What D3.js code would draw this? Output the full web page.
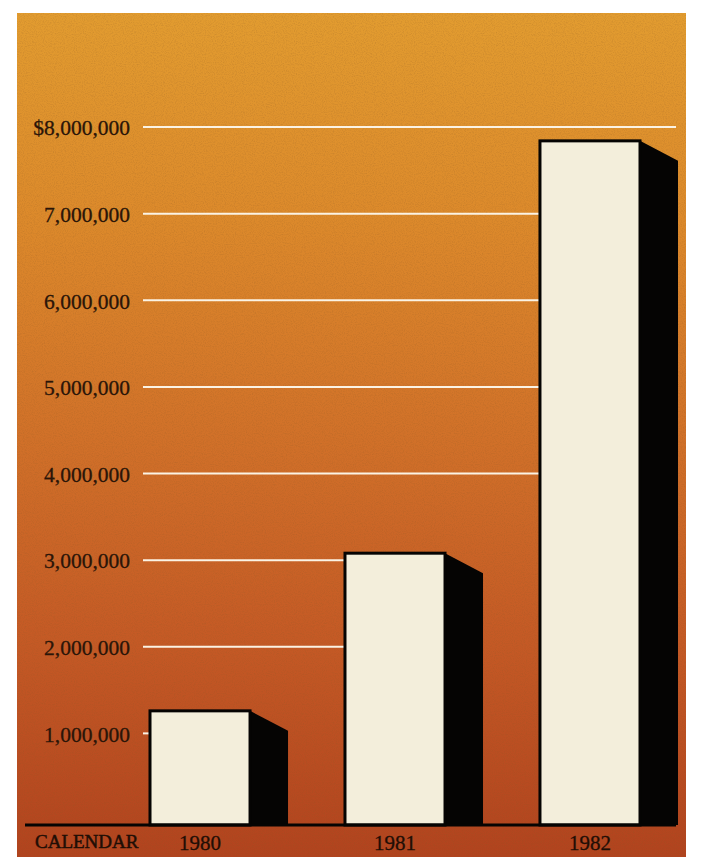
<!DOCTYPE html>
<html>
<head>
<meta charset="utf-8">
<script src="https://cdn.jsdelivr.net/npm/d3@7"></script>
<style>
  html, body { margin: 0; padding: 0; background: #ffffff; }
  svg { display: block; }
</style>
</head>
<body>
<div id="chart"></div>
<script>
// ---- data ----
const categories = ["1980", "1981", "1982"];
const values = [1260000, 3080000, 7840000];
const tickValues = [1000000, 2000000, 3000000, 4000000, 5000000, 6000000, 7000000, 8000000];
const xAxisTitle = "CALENDAR";

// ---- layout ----
const W = 701, H = 857;
const panel = { x: 17, y: 13, w: 669, h: H - 13 };
const plotLeft = 143, plotRight = 676;
const baselineY = 825;

const svg = d3.select("#chart").append("svg")
  .attr("width", W).attr("height", H);

const defs = svg.append("defs");
const grad = defs.append("linearGradient")
  .attr("id", "bg").attr("x1", 0).attr("y1", 0).attr("x2", 0).attr("y2", 1);
[[0, "#e29c30"], [0.25, "#dc892b"], [0.5, "#d17129"], [0.75, "#c45925"], [1, "#b1431e"]]
  .forEach(([o, c]) => grad.append("stop").attr("offset", o).attr("stop-color", c));

const filt = defs.append("filter").attr("id", "grain")
  .attr("x", 0).attr("y", 0).attr("width", "100%").attr("height", "100%");
filt.append("feTurbulence").attr("type", "fractalNoise")
  .attr("baseFrequency", 0.9).attr("numOctaves", 2).attr("seed", 3).attr("result", "n");
filt.append("feColorMatrix").attr("in", "n").attr("type", "matrix")
  .attr("values", "0 0 0 0 0.25  0 0 0 0 0.1  0 0 0 0 0.02  0 0 0 -1.3 0.75");

// background panel
svg.append("rect")
  .attr("x", panel.x).attr("y", panel.y).attr("width", panel.w).attr("height", panel.h)
  .attr("fill", "url(#bg)");
svg.append("rect")
  .attr("x", panel.x).attr("y", panel.y).attr("width", panel.w).attr("height", panel.h)
  .attr("filter", "url(#grain)").attr("opacity", 0.35);

// ---- scales ----
const y = d3.scaleLinear().domain([0, 8000000]).range([820, 127]);
const x = d3.scaleBand().domain(categories).range([150, 640])
  .paddingInner(0.487).paddingOuter(0);
const depthX = 38, depthY = 20;

// gridlines: stop at the first bar tall enough to hide them
const grid = svg.append("g");
tickValues.forEach(t => {
  let endX = plotRight;
  for (let i = 0; i < categories.length; i++) {
    if (values[i] >= t) { endX = x(categories[i]); break; }
  }
  grid.append("line")
    .attr("x1", plotLeft).attr("x2", endX)
    .attr("y1", y(t)).attr("y2", y(t))
    .attr("stroke", "#fbf3e4").attr("stroke-width", 2);
});

// y axis labels
const fmt = d3.format(",");
const yAxis = d3.axisLeft(y).tickValues(tickValues).tickSize(0).tickPadding(13)
  .tickFormat(d => (d === 8000000 ? "$" : "") + fmt(d));
const gy = svg.append("g").attr("transform", `translate(${plotLeft},0)`).call(yAxis);
gy.select(".domain").remove();
gy.selectAll("text")
  .attr("font-family", "'Liberation Serif', 'Times New Roman', serif")
  .attr("font-size", 21.5).attr("fill", "#2a1508")
  .attr("stroke", "#2a1508").attr("stroke-width", 0.3)
  .attr("dy", "0.36em");

// bars: shadow side + front face
const bars = svg.append("g");
categories.forEach((c, i) => {
  const x0 = x(c), bw = x.bandwidth(), yt = y(values[i]);
  bars.append("path")
    .attr("d", `M${x0 + bw},${yt} L${x0 + bw + depthX},${yt + depthY} L${x0 + bw + depthX},${baselineY} L${x0 + bw},${baselineY} Z`)
    .attr("fill", "#050403");
  bars.append("rect")
    .attr("x", x0).attr("y", yt).attr("width", bw).attr("height", baselineY - yt)
    .attr("fill", "#f3eedb").attr("stroke", "#050403").attr("stroke-width", 3);
});

// baseline
svg.append("line")
  .attr("x1", 25).attr("x2", plotRight).attr("y1", baselineY).attr("y2", baselineY)
  .attr("stroke", "#050403").attr("stroke-width", 3);

// x axis labels
const xAxis = d3.axisBottom(x).tickSize(0).tickPadding(10);
const gx = svg.append("g").attr("transform", `translate(0,${baselineY})`).call(xAxis);
gx.select(".domain").remove();
gx.selectAll("text")
  .attr("font-family", "'Liberation Serif', 'Times New Roman', serif")
  .attr("font-size", 21).attr("fill", "#1f0e05")
  .attr("stroke", "#1f0e05").attr("stroke-width", 0.3);

svg.append("text")
  .attr("x", 35).attr("y", 848)
  .attr("font-family", "'Liberation Serif', 'Times New Roman', serif")
  .attr("font-size", 19).attr("fill", "#1f0e05")
  .attr("stroke", "#1f0e05").attr("stroke-width", 0.5)
  .text(xAxisTitle);
</script>
</body>
</html>
